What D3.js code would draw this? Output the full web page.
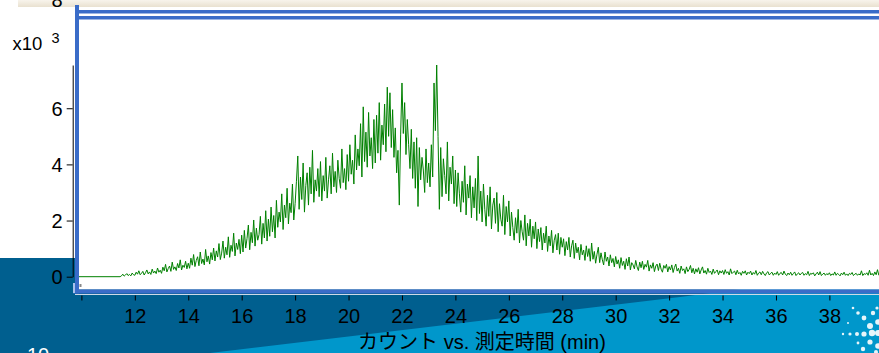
<!DOCTYPE html>
<html>
<head>
<meta charset="utf-8">
<script src="https://cdn.jsdelivr.net/npm/d3@7/dist/d3.min.js"></script>
<style>
  html, body { margin: 0; padding: 0; background: #ffffff; }
  svg { display: block; }
  text { font-family: "Liberation Sans", Arial, "Noto Sans CJK JP", sans-serif; }
</style>
</head>
<body>
<svg id="chart" width="879" height="353"></svg>
<script>
// Acquisition time axis (minutes) and counts (x10^3)
const leadTime = 9.9;          // start of the flat baseline before signal
const startMin = 11.5;         // first sampled point with signal
const stepMin = 0.05;          // sampling interval, minutes
const xTicks = [10, 12, 14, 16, 18, 20, 22, 24, 26, 28, 30, 32, 34, 36, 38];
const yTicks = [0, 2, 4, 6];
const yMax = 7.54;
const xLabel = "カウント vs. 測定時間 (min)";
const yUnit = "x10";
const yExp = "3";

const counts = [
  // 11.50 - 11.95
  0.03, 0.09, 0.02, 0.06, 0.11, 0.04, 0.08, 0.03, 0.13, 0.07,
  // 12
  0.05, 0.16, 0.09, 0.21, 0.07, 0.12, 0.19, 0.06, 0.14, 0.24, 0.10, 0.17, 0.08, 0.27, 0.13, 0.20, 0.11, 0.31, 0.16, 0.23,
  // 13
  0.12, 0.34, 0.21, 0.44, 0.17, 0.29, 0.38, 0.19, 0.52, 0.26, 0.35, 0.22, 0.47, 0.31, 0.60, 0.24, 0.41, 0.33, 0.55, 0.28,
  // 14
  0.48, 0.30, 0.66, 0.41, 0.79, 0.36, 0.58, 0.71, 0.39, 0.88, 0.47, 0.63, 0.42, 0.97, 0.53, 0.74, 0.45, 0.86, 0.60, 1.02,
  // 15
  0.56, 0.92, 0.70, 1.18, 0.61, 0.84, 1.27, 0.66, 1.05, 0.78, 1.42, 0.69, 1.12, 0.90, 1.55, 0.74, 1.20, 0.97, 1.33, 0.82,
  // 16
  1.48, 0.88, 1.65, 1.02, 1.36, 1.84, 0.96, 1.58, 1.21, 2.02, 1.09, 1.73, 1.30, 1.50, 2.15, 1.16, 1.90, 1.38, 2.35, 1.27,
  // 17
  2.05, 1.44, 2.48, 1.60, 2.18, 1.38, 2.72, 1.76, 2.30, 1.95, 2.95, 1.68, 2.55, 2.10, 3.15, 1.88, 2.62, 2.28, 3.30, 2.02,
  // 18
  2.60, 3.40, 4.30, 2.40, 3.55, 2.75, 4.05, 2.30, 3.25, 3.70, 2.55, 3.90, 2.95, 4.50, 2.65, 3.45, 3.05, 3.85, 2.85, 4.10,
  // 19
  2.70, 3.60, 3.05, 4.25, 2.80, 3.45, 3.95, 2.95, 4.40, 3.20, 3.75, 3.00, 4.15, 3.50, 3.15, 4.55, 3.35, 3.85, 3.10, 4.35,
  // 20
  3.40, 4.70, 3.65, 4.15, 3.30, 5.05, 3.80, 4.55, 3.95, 5.45, 3.55, 6.05, 4.10, 5.15, 3.90, 5.85, 4.30, 4.95, 3.85, 5.60,
  // 21
  4.05, 5.75, 4.40, 6.20, 4.15, 5.40, 4.70, 6.15, 4.45, 6.75, 5.00, 6.55, 4.60, 5.95, 4.25, 5.30, 3.70, 4.50, 2.55, 5.05,
  // 22
  6.90, 5.10, 6.20, 4.35, 5.60, 4.70, 3.85, 5.25, 3.50, 4.80, 3.15, 4.95, 2.50, 4.60, 3.45, 4.25, 3.80, 3.00, 4.55, 3.35,
  // 23
  4.05, 3.20, 4.70, 3.55, 6.90, 5.20, 7.54, 5.00, 2.40, 4.60, 2.85, 4.20, 3.60, 2.95, 4.80, 2.70, 3.90, 3.30, 4.30, 2.60,
  // 24
  3.80, 2.50, 3.70, 2.95, 2.30, 3.40, 2.65, 3.95, 2.20, 3.30, 2.80, 3.60, 2.10, 3.20, 2.45, 3.50, 2.00, 4.30, 2.25, 3.05,
  // 25
  1.95, 3.30, 2.40, 1.80, 2.90, 2.15, 3.20, 1.70, 2.55, 2.80, 1.90, 3.00, 1.60, 2.60, 2.05, 1.80, 2.90, 1.50, 2.50, 1.95,
  // 26
  2.70, 1.45, 2.30, 1.75, 1.30, 2.10, 1.55, 2.40, 1.20, 2.00, 1.60, 1.30, 2.20, 1.10, 1.90, 1.45, 2.05, 1.05, 1.80, 1.35,
  // 27
  1.95, 1.00, 1.70, 1.25, 1.75, 0.95, 1.55, 1.20, 1.80, 0.90, 1.45, 1.10, 1.65, 0.85, 1.30, 1.50, 0.95, 1.55, 0.80, 1.40,
  // 28
  1.05, 1.35, 0.75, 1.25, 0.95, 1.40, 0.70, 1.10, 1.30, 0.65, 1.20, 0.85, 1.05, 0.60, 1.15, 0.78, 0.95, 0.58, 1.10, 0.72,
  // 29
  1.00, 0.55, 1.20, 0.62, 0.90, 0.48, 0.80, 1.05, 0.50, 0.85, 0.60, 0.42, 0.88, 0.55, 0.70, 0.38, 0.78, 0.50, 0.65, 0.35,
  // 30
  0.72, 0.45, 0.60, 0.30, 0.68, 0.40, 0.55, 0.26, 0.64, 0.38, 0.70, 0.24, 0.50, 0.42, 0.28, 0.58, 0.35, 0.22, 0.52, 0.32,
  // 31
  0.55, 0.26, 0.44, 0.34, 0.58, 0.20, 0.42, 0.30, 0.50, 0.18, 0.38, 0.45, 0.22, 0.48, 0.27, 0.16, 0.40, 0.30, 0.44, 0.17,
  // 32
  0.36, 0.24, 0.42, 0.15, 0.33, 0.45, 0.20, 0.30, 0.12, 0.38, 0.22, 0.28, 0.11, 0.35, 0.18, 0.26, 0.40, 0.14, 0.30, 0.10,
  // 33
  0.28, 0.16, 0.32, 0.10, 0.24, 0.35, 0.13, 0.22, 0.09, 0.30, 0.15, 0.20, 0.08, 0.27, 0.12, 0.18, 0.24, 0.07, 0.21, 0.13,
  // 34
  0.22, 0.08, 0.25, 0.12, 0.18, 0.06, 0.28, 0.11, 0.16, 0.20, 0.07, 0.23, 0.10, 0.15, 0.05, 0.19, 0.12, 0.21, 0.06, 0.16,
  // 35
  0.11, 0.20, 0.06, 0.15, 0.09, 0.22, 0.05, 0.13, 0.17, 0.07, 0.19, 0.10, 0.04, 0.14, 0.18, 0.06, 0.12, 0.16, 0.05, 0.13,
  // 36
  0.08, 0.18, 0.05, 0.12, 0.15, 0.06, 0.20, 0.09, 0.04, 0.13, 0.07, 0.16, 0.05, 0.11, 0.17, 0.04, 0.10, 0.14, 0.06, 0.12,
  // 37
  0.15, 0.05, 0.11, 0.07, 0.19, 0.04, 0.12, 0.09, 0.14, 0.03, 0.10, 0.16, 0.06, 0.18, 0.04, 0.09, 0.13, 0.05, 0.11, 0.07,
  // 38
  0.14, 0.04, 0.10, 0.06, 0.17, 0.05, 0.12, 0.08, 0.03, 0.13, 0.07, 0.16, 0.05, 0.10, 0.04, 0.12, 0.08, 0.15, 0.04, 0.09,
  // 39
  0.12, 0.05, 0.10, 0.06, 0.21, 0.04, 0.11, 0.08, 0.14, 0.05, 0.23, 0.06, 0.12, 0.04, 0.17, 0.07, 0.25, 0.05
];

// Assemble (time, value) pairs: flat lead-in then the sampled trace
const trace = [[leadTime, 0], [startMin - stepMin, 0]]
  .concat(counts.map((v, i) => [startMin + i * stepMin, v]));

const svg = d3.select("#chart");
const W = 879, H = 353;

// ---- backdrop ----
svg.append("rect").attr("width", W).attr("height", H).attr("fill", "#ffffff");
svg.append("rect").attr("x", 0).attr("y", 258).attr("width", W).attr("height", H - 258).attr("fill", "#005f8f");
svg.append("polygon")
  .attr("points", `210,353 680,297 ${W},271 ${W},${H}`)
  .attr("fill", "#0097cb");

// window strip along the top
const defs = svg.append("defs");
const strip = defs.append("linearGradient").attr("id", "strip").attr("x1", 0).attr("y1", 0).attr("x2", 0).attr("y2", 1);
strip.append("stop").attr("offset", "0%").attr("stop-color", "#f8f4ec");
strip.append("stop").attr("offset", "100%").attr("stop-color", "#e9e1d0");
svg.append("rect").attr("x", 18).attr("y", 0).attr("width", W - 18).attr("height", 7).attr("fill", "url(#strip)");
svg.append("text").attr("x", 57).attr("y", 6.5).attr("text-anchor", "middle")
  .attr("font-size", 20).attr("fill", "#000").text("8");

// sparkle decoration, lower right
const dots = [
  [853, 308, 1.3], [858, 313, 1.8], [864, 318, 2.4], [870, 326, 3.0], [877, 308, 1.6],
  [873, 313, 2.2], [878, 322, 2.8], [843, 334, 1.2], [850, 334, 1.6], [857, 334, 2.0],
  [864, 334, 2.6], [872, 333, 3.2], [878, 333, 3.0], [870, 342, 2.6], [863, 349, 2.2],
  [878, 346, 2.8], [876, 352, 2.0], [848, 323, 1.0], [858, 343, 1.4]
];
svg.append("g").selectAll("circle").data(dots).join("circle")
  .attr("cx", d => d[0]).attr("cy", d => d[1]).attr("r", d => d[2])
  .attr("fill", "#ffffff").attr("opacity", 0.9);

svg.append("text").attr("x", 27).attr("y", 362).attr("font-size", 20).attr("fill", "#ffffff").text("10");

// ---- plot window frame ----
const frame = "#3a6cc8";
svg.append("rect").attr("x", 79).attr("y", 19.5).attr("width", W - 79).attr("height", 270).attr("fill", "#ffffff");
svg.append("rect").attr("x", 75).attr("y", 10).attr("width", W - 75).attr("height", 3.5).attr("fill", frame);
svg.append("rect").attr("x", 75).attr("y", 16).attr("width", W - 75).attr("height", 3.5).attr("fill", frame);
svg.append("rect").attr("x", 75).attr("y", 5).attr("width", 4).attr("height", 288.5).attr("fill", frame);
svg.append("rect").attr("x", 73).attr("y", 289.5).attr("width", W - 73).attr("height", 4).attr("fill", frame);
svg.append("rect").attr("x", 73).attr("y", 283).attr("width", 2).attr("height", 10).attr("fill", "#a9c2ec");
svg.append("rect").attr("x", 79.5).attr("y", 284).attr("width", 2).attr("height", 3).attr("fill", "#8a8a8a");
svg.append("line").attr("x1", 75).attr("x2", W).attr("y1", 294.5).attr("y2", 294.5)
  .attr("stroke", "#cfd9e6").attr("stroke-width", 1);

// ---- scales ----
const x = d3.scaleLinear().domain([10, 38]).range([81.4, 829.4]);
const y = d3.scaleLinear().domain([0, yMax]).range([276.7, 65]);

// ---- trace ----
svg.append("clipPath").attr("id", "plotClip")
  .append("rect").attr("x", 79).attr("y", 19.5).attr("width", W - 79).attr("height", 270);
const line = d3.line().x(d => x(d[0])).y(d => y(d[1]));
svg.append("path").datum(trace)
  .attr("clip-path", "url(#plotClip)")
  .attr("fill", "none")
  .attr("stroke", "#008000")
  .attr("stroke-width", 1)
  .attr("d", line);

// ---- y axis ----
const yAxis = d3.axisLeft(y).tickValues(yTicks).tickSize(6).tickSizeOuter(0).tickPadding(4).tickFormat(d3.format("d"));
const gy = svg.append("g").attr("transform", "translate(72.7,0)").call(yAxis);
gy.select(".domain").attr("stroke", "#000");
gy.selectAll(".tick line").attr("stroke", "#000");
gy.selectAll(".tick text").attr("font-size", 20).attr("fill", "#000")
  .attr("font-family", "'Liberation Sans', Arial, sans-serif").attr("dy", "0.35em");

svg.append("text").attr("x", 12.5).attr("y", 50).attr("font-size", 18.5).attr("fill", "#000").text(yUnit);
svg.append("text").attr("x", 51.5).attr("y", 42.7).attr("font-size", 14.5).attr("fill", "#000").text(yExp);

// ---- x axis ----
const xAxis = d3.axisBottom(x).tickValues(xTicks).tickSize(5).tickSizeOuter(0).tickPadding(8)
  .tickFormat(d => d === 10 ? "" : d);
const gx = svg.append("g").attr("transform", "translate(0,295.5)").call(xAxis);
gx.select(".domain").remove();
gx.selectAll(".tick line").attr("stroke", "#000");
gx.selectAll(".tick text").attr("font-size", 20).attr("fill", "#000")
  .attr("font-family", "'Liberation Sans', Arial, sans-serif");

svg.append("text").attr("x", 482).attr("y", 348.5).attr("text-anchor", "middle")
  .attr("font-size", 20).attr("fill", "#000")
  .attr("font-family", "'Liberation Sans', 'Noto Sans CJK JP', sans-serif")
  .text(xLabel);
</script>
</body>
</html>
